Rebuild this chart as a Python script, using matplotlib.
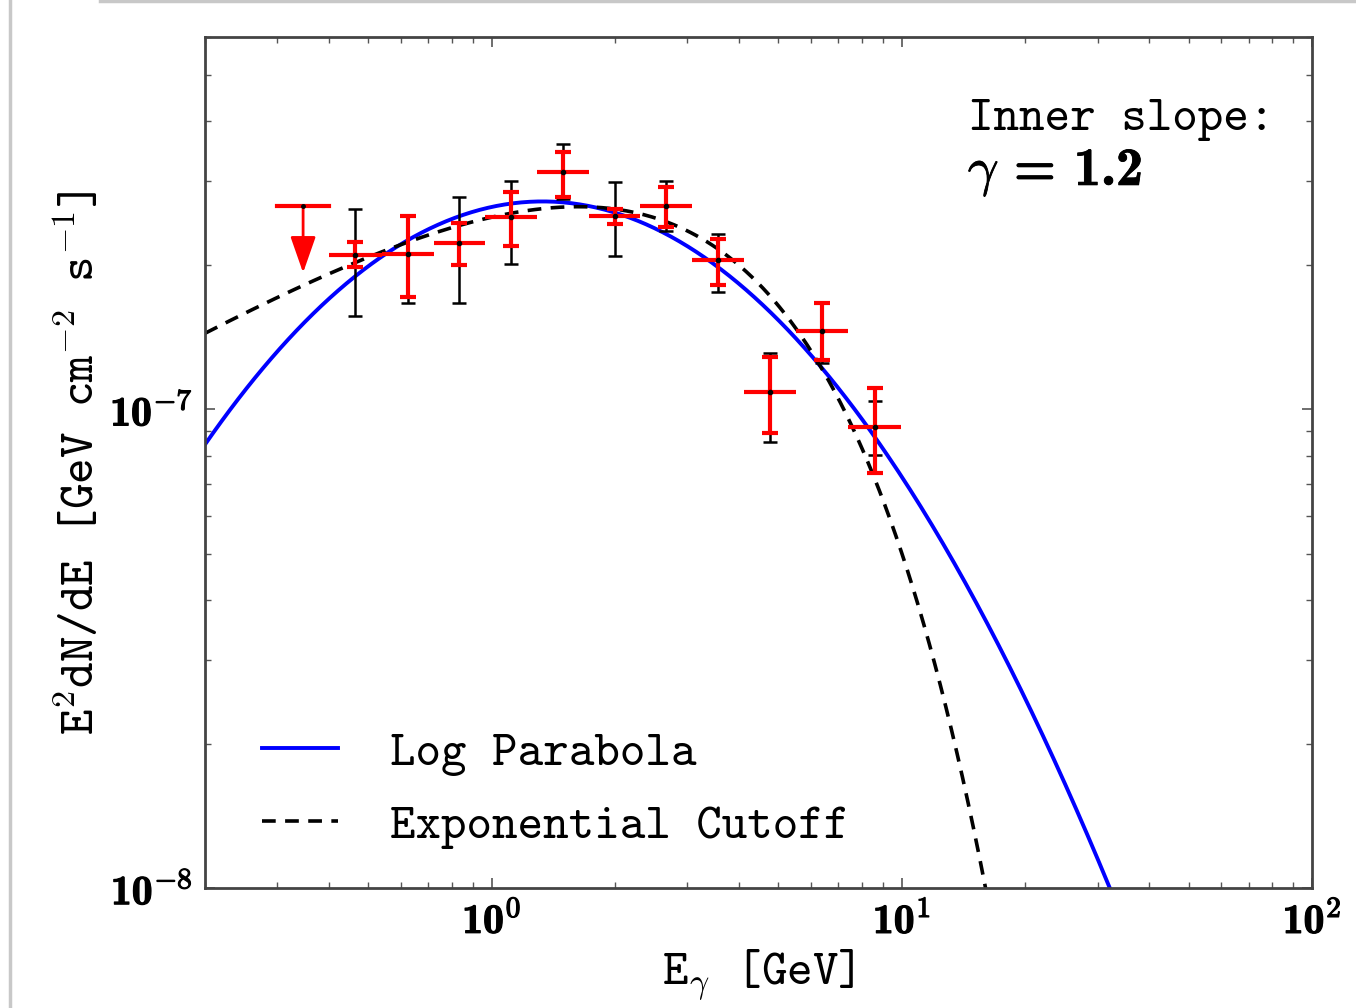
import os
import numpy as np
import matplotlib
matplotlib.use('Agg')
import matplotlib.pyplot as plt
from matplotlib import font_manager
from matplotlib.lines import Line2D
import matplotlib.patheffects as pe

plt.rcParams['mathtext.fontset'] = 'cm'

# LaTeX-like fonts that ship with matplotlib
ttf_dir = os.path.join(matplotlib.get_data_path(), 'fonts', 'ttf')
tt_path = os.path.join(ttf_dir, 'cmtt10.ttf')
bf_path = os.path.join(ttf_dir, 'cmb10.ttf')
font_manager.fontManager.addfont(tt_path)
font_manager.fontManager.addfont(bf_path)

# energy bins [GeV] (12 bins, first one is an upper limit)
bin_edges = [0.300, 0.401, 0.540, 0.723, 0.962, 1.286, 1.722,
             2.305, 3.084, 4.126, 5.52, 7.39, 9.95]

# upper limit in first bin
ul_value = 2.66e-7
ul_tip = 1.93e-7

# measured points (bins 2..12)
flux = [2.10e-7, 2.11e-7, 2.23e-7, 2.52e-7, 3.13e-7, 2.53e-7,
        2.66e-7, 2.05e-7, 1.085e-7, 1.46e-7, 9.21e-8]
# statistical errors (red): lower / upper bounds
stat_lo = [1.98e-7, 1.72e-7, 2.00e-7, 2.20e-7, 2.78e-7, 2.44e-7,
           2.40e-7, 1.82e-7, 8.91e-8, 1.27e-7, 7.38e-8]
stat_hi = [2.24e-7, 2.53e-7, 2.45e-7, 2.84e-7, 3.45e-7, 2.62e-7,
           2.91e-7, 2.27e-7, 1.285e-7, 1.67e-7, 1.106e-7]
# systematic errors (black): lower / upper bounds
sys_lo = [1.565e-7, 1.67e-7, 1.67e-7, 2.01e-7, 2.75e-7, 2.09e-7,
          2.36e-7, 1.76e-7, 8.53e-8, 1.25e-7, 8.05e-8]
sys_hi = [2.62e-7, 2.53e-7, 2.78e-7, 3.00e-7, 3.58e-7, 2.99e-7,
          3.00e-7, 2.33e-7, 1.31e-7, 1.68e-7, 1.039e-7]

# model parameters
lp_epeak, lp_npeak, lp_curv = 1.33, 2.72e-7, 0.75      # log parabola (log10 form)
ec_norm, ec_index, ec_cut = 3.43e-7, 1.5, 3.25         # exponential cutoff

edges = np.array(bin_edges)
centers = np.sqrt(edges[:-1] * edges[1:])
xc = centers[1:]
xlo = xc - edges[1:-1]
xhi = edges[2:] - xc
flux = np.array(flux)

E = np.logspace(np.log10(0.2), 2, 400)
logpar = lp_npeak * 10 ** (-lp_curv * np.log10(E / lp_epeak) ** 2)
expcut = ec_norm * E ** (2 - ec_index) * np.exp(-E / ec_cut)

tt_big = font_manager.FontProperties(fname=tt_path, size=35)
tt_lab = font_manager.FontProperties(fname=tt_path, size=35)
bf_tick = font_manager.FontProperties(fname=bf_path, size=30)
bf_big = font_manager.FontProperties(fname=bf_path, size=39)
bold_fx = [pe.withStroke(linewidth=0.9, foreground='black')]

fig = plt.figure(figsize=(13.56, 10.08), dpi=100)
ax = fig.add_axes([0.1512, 0.119, 0.8164, 0.8443])

ax.plot(E, logpar, color='#0000ff', lw=2.8, label='Log Parabola', zorder=2)
ax.plot(E, expcut, color='black', lw=2.6, ls=(0, (3.8, 2.6)),
        label='Exponential Cutoff', zorder=2)

ax.errorbar(xc, flux, yerr=[flux - np.array(sys_lo), np.array(sys_hi) - flux],
            fmt='none', ecolor='black', elinewidth=1.8, capsize=5, capthick=1.8, zorder=3)
ax.errorbar(xc, flux, yerr=[flux - np.array(stat_lo), np.array(stat_hi) - flux],
            fmt='none', ecolor='red', elinewidth=3.0, capsize=5.5, capthick=3.0, zorder=4)
ax.errorbar(xc, flux, xerr=[xlo, xhi], fmt='none', ecolor='red',
            elinewidth=3.0, capsize=0, zorder=4)
ax.plot(xc, flux, 'o', color='black', ms=3, zorder=5)

# upper limit
ax.plot([edges[0], edges[1]], [ul_value, ul_value], color='red', lw=3.0, zorder=4)
ax.plot([centers[0]], [ul_value], 'o', color='black', ms=2.5, zorder=5)
ax.annotate('', xy=(centers[0], ul_tip), xytext=(centers[0], ul_value),
            arrowprops=dict(arrowstyle='-|>,head_length=0.8,head_width=0.28',
                            color='red', lw=2.0, mutation_scale=28, shrinkA=0, shrinkB=0),
            zorder=4)

ax.set_xscale('log')
ax.set_yscale('log')
ax.set_xlim(0.2, 100)
ax.set_ylim(1e-8, 6.0e-7)

ax.set_xticks([1, 10, 100])
ax.set_xticklabels(['10$^{0}$', '10$^{1}$', '10$^{2}$'], fontproperties=bf_tick)
ax.set_yticks([1e-8, 1e-7])
ax.set_yticklabels(['10$^{-8}$', '10$^{-7}$'], fontproperties=bf_tick)
for lbl in ax.get_xticklabels() + ax.get_yticklabels():
    lbl.set_path_effects(bold_fx)

ax.tick_params(which='both', direction='in', top=True, right=True, color='#555555')
ax.tick_params(which='major', length=7, width=1.2, pad=9)
ax.tick_params(which='minor', length=4, width=1.0)
for sp in ax.spines.values():
    sp.set_color('#444444')
    sp.set_linewidth(2.0)

ax.set_xlabel('E$_{\\gamma}$ [GeV]', fontproperties=tt_lab, labelpad=5)
ax.set_ylabel('E$^{2}$dN/dE [GeV cm$^{-2}$ s$^{-1}$]', fontproperties=tt_lab, labelpad=4)

ax.text(0.689, 0.902, 'Inner slope:', transform=ax.transAxes,
        fontproperties=tt_big, va='center', ha='left')
t = ax.text(0.689, 0.840, '$\\gamma$ = 1.2', transform=ax.transAxes,
            fontproperties=bf_big, va='center', ha='left')
t.set_path_effects([pe.withStroke(linewidth=0.6, foreground='black')])

leg = ax.legend(loc='lower left', bbox_to_anchor=(0.0515, 0.046), frameon=False,
                prop=tt_big, handlelength=1.56, handletextpad=1.07,
                labelspacing=0.58, borderpad=0, borderaxespad=0)

# screenshot border lines
fig.add_artist(Line2D([0.0075, 0.0075], [0, 1], color='#c8c8c8', lw=2.5))
fig.add_artist(Line2D([0.074, 1], [0.999, 0.999], color='#c8c8c8', lw=2.5))

fig.savefig('out.png', dpi=100)
